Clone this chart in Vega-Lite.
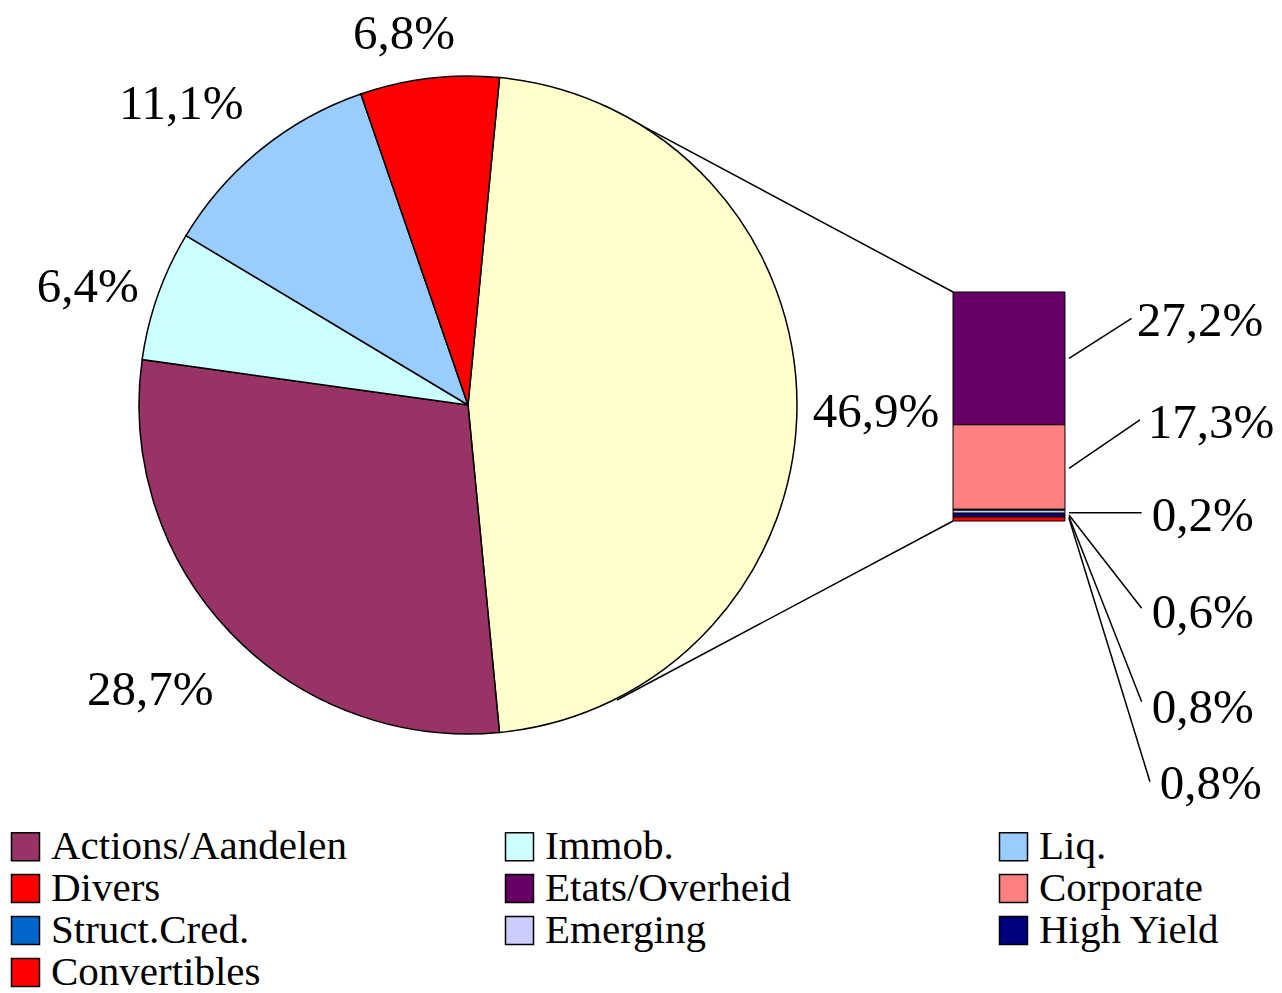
{
  "$schema": "https://vega.github.io/schema/vega-lite/v6.json",
  "width": 936,
  "height": 810,
  "autosize": {"type": "none"},
  "padding": {"left": 0, "top": 0, "right": 346, "bottom": 183},
  "background": "white",
  "config": {
    "view": {"stroke": null},
    "axis": {"disable": true},
    "locale": {"number": {"decimal": ",", "thousands": ".", "grouping": [3], "currency": ["", " €"]}}
  },
  "datasets": {
    "pie": [
      {"cat": "Obligations", "share": 0.469, "ord": 1},
      {"cat": "Actions/Aandelen", "share": 0.287, "ord": 2},
      {"cat": "Immob.", "share": 0.064, "ord": 3},
      {"cat": "Liq.", "share": 0.111, "ord": 4},
      {"cat": "Divers", "share": 0.068, "ord": 5}
    ],
    "bar": [
      {"cat": "Etats/Overheid", "share": 0.272, "ord": 6},
      {"cat": "Corporate", "share": 0.173, "ord": 5},
      {"cat": "Struct.Cred.", "share": 0.002, "ord": 4},
      {"cat": "Emerging", "share": 0.006, "ord": 3},
      {"cat": "High Yield", "share": 0.008, "ord": 2},
      {"cat": "Convertibles", "share": 0.008, "ord": 1}
    ]
  },
  "layer": [
    {
      "data": {"values": [{}]},
      "mark": {"type": "rule", "stroke": "black", "strokeWidth": 1.5},
      "encoding": {
        "x": {"datum": 46.54, "type": "quantitative", "scale": {"domain": [0, 72], "nice": false, "zero": false}, "axis": null},
        "y": {"datum": 0.85, "type": "quantitative", "scale": {"domain": [-0.5919, 1.067], "nice": false, "zero": false}, "axis": null},
        "x2": {"datum": 73.31},
        "y2": {"datum": 0.469}
      }
    },
    {
      "data": {"values": [{}]},
      "mark": {"type": "rule", "stroke": "black", "strokeWidth": 1.5},
      "encoding": {
        "x": {"datum": 47.46, "type": "quantitative", "scale": {"domain": [0, 72], "nice": false, "zero": false}, "axis": null},
        "y": {"datum": -0.3666, "type": "quantitative", "scale": {"domain": [-0.5919, 1.067], "nice": false, "zero": false}, "axis": null},
        "x2": {"datum": 73.31},
        "y2": {"datum": 0}
      }
    },
    {
      "data": {"name": "pie"},
      "mark": {"type": "arc", "outerRadius": 329, "stroke": "black", "strokeWidth": 1.5},
      "encoding": {
        "theta": {"field": "share", "type": "quantitative", "stack": true, "scale": {"range": [0.096, 6.3792]}},
        "order": {"field": "ord", "type": "quantitative"},
        "color": {
          "field": "cat",
          "type": "nominal",
          "scale": {
            "domain": ["Obligations", "Actions/Aandelen", "Immob.", "Liq.", "Divers", "Etats/Overheid", "Corporate", "Struct.Cred.", "Emerging", "High Yield", "Convertibles"],
            "range": ["#FFFFCC", "#993366", "#CCFFFF", "#99CCFF", "#FF0000", "#660066", "#FF8080", "#0066CC", "#CCCCFF", "#000080", "#FF0000"]
          },
          "legend": {
            "values": ["Actions/Aandelen", "Immob.", "Liq.", "Divers", "Etats/Overheid", "Corporate", "Struct.Cred.", "Emerging", "High Yield", "Convertibles"],
            "title": null,
            "orient": "none",
            "direction": "horizontal",
            "legendX": 5,
            "legendY": 826,
            "columns": 3,
            "gridAlign": "all",
            "columnPadding": 151,
            "rowPadding": 0,
            "padding": 0,
            "symbolType": "square",
            "symbolSize": 784,
            "symbolStrokeColor": "black",
            "symbolStrokeWidth": 1.5,
            "symbolOpacity": 1,
            "labelFont": "Liberation Serif",
            "labelFontSize": 41,
            "labelColor": "black",
            "labelOffset": 5,
            "labelLimit": 0
          }
        }
      }
    },
    {
      "data": {"name": "pie"},
      "mark": {
        "type": "text",
        "radius": 400,
        "font": "Liberation Serif",
        "fontSize": 49,
        "color": "black",
        "align": "center",
        "baseline": "middle",
        "dx": {"expr": "datum.cat=='Obligations'?8:datum.cat=='Actions/Aandelen'?-29:datum.cat=='Immob.'?-3:datum.cat=='Liq.'?-35:-17"},
        "dy": {"expr": "datum.cat=='Obligations'?7:datum.cat=='Actions/Aandelen'?8:datum.cat=='Immob.'?15:datum.cat=='Liq.'?10:26"}
      },
      "encoding": {
        "theta": {"field": "share", "type": "quantitative", "stack": true, "scale": {"range": [0.096, 6.3792]}},
        "order": {"field": "ord", "type": "quantitative"},
        "detail": {"field": "cat", "type": "nominal"},
        "text": {"field": "share", "type": "quantitative", "format": ".1%"}
      }
    },
    {
      "data": {"name": "bar"},
      "transform": [{"stack": "share", "groupby": [], "sort": [{"field": "ord", "order": "ascending"}], "as": ["b0", "b1"]}],
      "mark": {"type": "rect", "stroke": "black", "strokeWidth": 1},
      "encoding": {
        "x": {"datum": 73.31, "type": "quantitative", "scale": {"domain": [0, 72], "nice": false, "zero": false}, "axis": null},
        "x2": {"datum": 81.92},
        "y": {"field": "b0", "type": "quantitative", "scale": {"domain": [-0.5919, 1.067], "nice": false, "zero": false}, "axis": null},
        "y2": {"field": "b1"},
        "color": {
          "field": "cat",
          "type": "nominal",
          "scale": {
            "domain": ["Obligations", "Actions/Aandelen", "Immob.", "Liq.", "Divers", "Etats/Overheid", "Corporate", "Struct.Cred.", "Emerging", "High Yield", "Convertibles"],
            "range": ["#FFFFCC", "#993366", "#CCFFFF", "#99CCFF", "#FF0000", "#660066", "#FF8080", "#0066CC", "#CCCCFF", "#000080", "#FF0000"]
          }
        }
      }
    },
    {
      "data": {"name": "bar"},
      "transform": [{"stack": "share", "groupby": [], "sort": [{"field": "ord", "order": "ascending"}], "as": ["b0", "b1"]}],
      "mark": {
        "type": "rule",
        "stroke": "black",
        "strokeWidth": 1.5,
        "yOffset": {"expr": "datum.cat=='Etats/Overheid'?-66.5:datum.cat=='Corporate'?-41:datum.cat=='Struct.Cred.'?2.4:datum.cat=='Emerging'?1.8:datum.cat=='High Yield'?-0.4:-2.7"},
        "y2Offset": {"expr": "datum.cat=='Etats/Overheid'?-106.5:datum.cat=='Corporate'?-89.3:datum.cat=='Struct.Cred.'?2.4:datum.cat=='Emerging'?95.1:datum.cat=='High Yield'?184.6:260.7"},
        "x2Offset": {"expr": "datum.cat=='Etats/Overheid'?-10:datum.cat=='Corporate'?-1.7:datum.cat=='Convertibles'?8.3:0"}
      },
      "encoding": {
        "x": {"datum": 82.23, "type": "quantitative", "scale": {"domain": [0, 72], "nice": false, "zero": false}, "axis": null},
        "x2": {"datum": 87.82},
        "y": {"field": "b0", "type": "quantitative", "scale": {"domain": [-0.5919, 1.067], "nice": false, "zero": false}, "axis": null},
        "y2": {"field": "b0"}
      }
    },
    {
      "data": {"name": "bar"},
      "transform": [{"stack": "share", "groupby": [], "sort": [{"field": "ord", "order": "ascending"}], "as": ["b0", "b1"]}],
      "mark": {
        "type": "text",
        "font": "Liberation Serif",
        "fontSize": 49,
        "color": "black",
        "align": "left",
        "baseline": "middle",
        "dx": {"expr": "datum.cat=='Etats/Overheid'?-15:datum.cat=='Corporate'?-4:datum.cat=='Convertibles'?8:0"},
        "dy": {"expr": "datum.cat=='Etats/Overheid'?-103.8:datum.cat=='Corporate'?-86.3:datum.cat=='Struct.Cred.'?5.7:datum.cat=='Emerging'?99.8:datum.cat=='High Yield'?190.9:263.5"}
      },
      "encoding": {
        "x": {"datum": 88.59, "type": "quantitative", "scale": {"domain": [0, 72], "nice": false, "zero": false}, "axis": null},
        "y": {"field": "b0", "type": "quantitative", "scale": {"domain": [-0.5919, 1.067], "nice": false, "zero": false}, "axis": null},
        "text": {"field": "share", "type": "quantitative", "format": ".1%"}
      }
    }
  ]
}
